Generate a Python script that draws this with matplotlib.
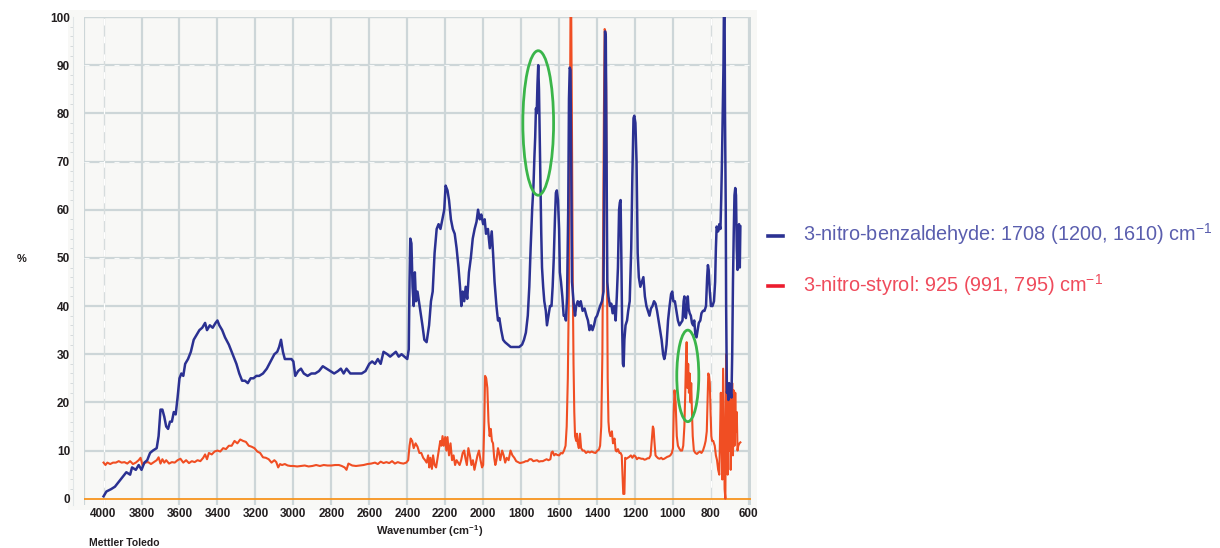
import matplotlib
matplotlib.use("Agg")
import matplotlib.pyplot as plt
from matplotlib.patches import Ellipse, Rectangle

# Spectrum readings (wavenumber cm-1, %)
blue_wn = [
    4000, 3985, 3960, 3940, 3920, 3900, 3880, 3860, 3850, 3830, 3815, 3800,
    3785, 3770, 3755, 3740, 3720, 3710, 3700, 3690, 3680, 3670, 3660, 3650,
    3640, 3630, 3620, 3610, 3600, 3590, 3580, 3570, 3555, 3540, 3525, 3510,
    3495, 3480, 3465, 3455, 3440, 3425, 3410, 3400, 3390, 3375, 3360, 3340,
    3320, 3300, 3285, 3270, 3255, 3240, 3225, 3210, 3195, 3180, 3160, 3140,
    3120, 3100, 3085, 3075, 3065, 3055, 3045, 3030, 3010, 3000, 2990, 2975,
    2960, 2945, 2925, 2905, 2885, 2865, 2845, 2825, 2805, 2785, 2765, 2750,
    2735, 2720, 2700, 2680, 2660, 2640, 2620, 2600, 2585, 2570, 2555, 2540,
    2525, 2505, 2490, 2475, 2460, 2445, 2430, 2415, 2400, 2392, 2388, 2384,
    2378, 2372, 2366, 2360, 2354, 2346, 2335, 2320, 2310, 2298, 2285, 2275,
    2266, 2256, 2245, 2235, 2225, 2215, 2205, 2198, 2188, 2180, 2170, 2160,
    2150, 2140, 2130, 2122, 2115, 2108, 2100, 2092, 2084, 2075, 2065, 2055,
    2045, 2035, 2027, 2018, 2010, 2000, 1992, 1985, 1975, 1965, 1955, 1948,
    1940, 1930, 1922, 1915, 1905, 1895, 1885, 1870, 1855, 1840, 1825, 1810,
    1795, 1785, 1775, 1765, 1757, 1750, 1742, 1735, 1730, 1726, 1722, 1718,
    1714, 1710, 1706, 1702, 1698, 1694, 1690, 1684, 1678, 1670, 1664, 1656,
    1648, 1640, 1634, 1628, 1622, 1617, 1612, 1606, 1600, 1596, 1590, 1583,
    1576, 1570, 1564, 1558, 1552, 1548, 1544, 1540, 1536, 1532, 1528, 1522,
    1516, 1510, 1502, 1494, 1486, 1476, 1466, 1456, 1448, 1440, 1432, 1424,
    1416, 1408, 1400, 1392, 1384, 1374, 1366, 1362, 1358, 1354, 1350, 1346,
    1340, 1332, 1325, 1318, 1310, 1302, 1296, 1290, 1284, 1280, 1276, 1272,
    1268, 1264, 1260, 1256, 1250, 1242, 1236, 1228, 1220, 1214, 1208, 1204,
    1198, 1192, 1186, 1180, 1172, 1164, 1156, 1148, 1140, 1132, 1124, 1116,
    1108, 1100, 1092, 1084, 1076, 1068, 1060, 1052, 1046, 1040, 1034, 1026,
    1018, 1010, 1004, 998, 990, 982, 974, 966, 958, 950, 944, 940, 936, 932,
    926, 922, 918, 912, 906, 900, 894, 888, 882, 876, 870, 864, 856, 850,
    842, 834, 826, 820, 816, 812, 806, 800, 792, 784, 778, 774, 770, 762,
    756, 750, 746, 742, 738, 734, 732, 728, 726, 722, 720, 716, 712, 708,
    704, 700, 696, 692, 688, 684, 680, 676, 672, 668, 664, 660, 656, 652,
    648, 645,
]
blue_pct = [
    0.5, 1.5, 2, 2.5, 3.5, 4.5, 5.5, 5, 6.5, 6, 7, 6,
    7.5, 8, 9.5, 10, 10.5, 13, 18.5, 18.5, 17, 15, 14.5, 16,
    16, 18, 17.5, 21, 25, 26, 25.5, 28, 29, 30.5, 33, 34,
    35, 35.5, 36.5, 35, 36, 35.5, 36.5, 37, 36, 35, 33.5, 32,
    30, 28, 26, 24.5, 24.5, 24, 25, 25, 25.5, 25.5, 26, 27,
    28.5, 30, 30.5, 31.5, 33, 30.5, 29, 29, 29, 28.5, 25.5, 26.5,
    27, 26, 25.5, 26, 26, 26.5, 27.5, 27, 26.5, 26, 26.5, 27,
    26, 27, 26, 26, 26, 26, 26.5, 28, 28.5, 28, 29, 28,
    30.5, 30, 29.5, 30, 30.5, 29.5, 30, 29.5, 29, 31, 45, 54,
    53, 44, 40, 47, 41, 43, 40, 36, 33, 32.5, 36, 41,
    43, 51, 56, 57, 56, 58, 60, 65, 64, 62, 58, 56,
    55, 52, 48, 44, 40, 43, 41, 44, 41.5, 47, 50, 54,
    56, 57.5, 60, 58, 59, 57, 58, 55, 56, 52, 55.5, 51,
    45, 40, 37, 37.5, 35, 33, 32.5, 32, 31.5, 31.5, 31.5, 31.5,
    32, 33, 34.5, 38, 44, 52, 60, 65, 71, 75, 81, 80,
    86, 90, 85, 75, 66, 55, 48, 44, 41, 39, 36, 38,
    40, 40, 44, 50, 58, 63.5, 64, 62, 56, 47, 45, 42,
    38, 38, 37, 42, 60, 83, 89.5, 89, 70, 45, 43, 40,
    38, 40, 41, 40, 41, 39, 39.5, 38, 37, 35, 36, 35,
    36, 37.5, 38, 39, 40, 41, 43, 70, 97, 96, 70, 45,
    42, 40, 40.5, 38.5, 40, 37, 42, 48, 60, 61.5, 62, 50,
    36, 28, 27.5, 33, 36, 37, 39, 41, 52, 67, 79, 79.5,
    78, 70, 51, 46, 44, 45, 46, 42, 40, 39, 38, 39.5,
    40, 41, 40.5, 39, 37, 35, 33, 30, 29, 30, 32, 37,
    40, 42.5, 43, 41, 41, 39, 37, 36, 36.5, 37, 41, 42, 38, 37.5,
    40, 42, 39.5, 38.5, 38, 36.5, 36, 37, 34, 33.5, 35, 36.5, 37, 38.5,
    39, 39, 40, 46, 48.5, 47.5, 43, 40, 40, 41, 45, 52, 56.5, 55.5,
    57, 56, 62, 70, 80, 90, 100, 100, 80, 60, 40, 22, 23, 20.5,
    24, 22, 22, 21, 30, 45, 55, 63, 64.5, 63, 52, 47.5, 55, 57,
    48, 56.5,
]

red_wn = [
    4000, 3990, 3980, 3965, 3950, 3935, 3920, 3905, 3890, 3875, 3860, 3845,
    3830, 3815, 3805, 3795, 3780, 3765, 3750, 3735, 3720, 3710, 3700, 3690,
    3680, 3670, 3655, 3640, 3625, 3610, 3595, 3580, 3565, 3550, 3535, 3520,
    3505, 3490, 3475, 3465, 3455, 3445, 3430, 3415, 3400, 3385, 3370, 3355,
    3340, 3325, 3310, 3295, 3280, 3265, 3250, 3235, 3220, 3205, 3190, 3175,
    3160, 3145, 3130, 3115, 3100, 3090, 3080, 3070, 3060, 3045, 3030, 3015,
    3000, 2980, 2960, 2940, 2920, 2900, 2880, 2860, 2840, 2820, 2800, 2780,
    2760, 2745, 2730, 2720, 2710, 2690, 2670, 2650, 2630, 2610, 2590, 2570,
    2555, 2540, 2525, 2510, 2495, 2480, 2465, 2450, 2435, 2420, 2405, 2395,
    2388, 2382, 2374, 2366, 2356, 2346, 2336, 2326, 2316, 2306, 2298, 2290,
    2284, 2278, 2270, 2264, 2256, 2248, 2240, 2232, 2226, 2220, 2214, 2208,
    2200, 2194, 2188, 2180, 2172, 2164, 2156, 2148, 2140, 2132, 2124, 2116,
    2108, 2100, 2094, 2086, 2078, 2070, 2062, 2054, 2046, 2038, 2030, 2022,
    2014, 2006, 2000, 1994, 1990, 1984, 1978, 1972, 1966, 1960, 1954, 1948,
    1942, 1936, 1930, 1922, 1916, 1910, 1900, 1892, 1884, 1876, 1866, 1856,
    1846, 1836, 1826, 1816, 1806, 1796, 1786, 1776, 1766, 1756, 1746, 1736,
    1726, 1716, 1706, 1696, 1686, 1676, 1666, 1656, 1646, 1640, 1634, 1626,
    1618, 1610, 1600, 1590, 1582, 1574, 1566, 1560, 1554, 1548, 1544, 1540,
    1536, 1532, 1528, 1524, 1520, 1516, 1510, 1506, 1502, 1496, 1490, 1484,
    1476, 1468, 1458, 1448, 1438, 1428, 1418, 1408, 1398, 1390, 1384, 1378,
    1372, 1368, 1364, 1360, 1356, 1352, 1348, 1344, 1340, 1336, 1330, 1322,
    1316, 1308, 1302, 1296, 1290, 1282, 1276, 1270, 1266, 1262, 1256, 1252,
    1246, 1238, 1230, 1222, 1214, 1206, 1198, 1190, 1182, 1174, 1166, 1158,
    1150, 1142, 1134, 1126, 1118, 1112, 1106, 1102, 1098, 1092, 1086, 1078,
    1070, 1062, 1054, 1046, 1038, 1030, 1022, 1014, 1006, 1000, 996, 992,
    986, 980, 974, 968, 960, 952, 946, 940, 936, 932, 928, 924, 920, 916,
    912, 908, 904, 900, 896, 890, 882, 874, 866, 858, 850, 842, 834, 828,
    822, 818, 814, 810, 806, 802, 798, 794, 788, 780, 774, 768, 762, 756,
    752, 748, 744, 740, 736, 732, 728, 724, 720, 716, 712, 708, 704, 700,
    696, 692, 688, 684, 680, 676, 672, 668, 664, 660, 656, 650, 645,
]
red_pct = [
    7.5, 7, 7.5, 7.2, 7.5, 7.5, 7.8, 7.5, 7.6, 7.3, 7.8, 7.2,
    7.5, 8, 8.5, 7, 7.5, 7.6, 7.2, 7.6, 8, 8.6, 7.3, 8.2,
    7.5, 8, 7.3, 7.6, 7.5, 8, 8.3, 7.5, 8, 7.4, 7.8, 7.6,
    8, 7.8, 8.5, 9.2, 8.2, 9.5, 9.2, 9.8, 10, 9.8, 10.5, 10.3,
    11, 11, 12, 11.5, 12.3, 12, 11.8, 11, 10.8, 10.5, 9.8, 9.5,
    8.6, 8.5, 8.2, 7.5, 8, 7.6, 6.5, 7.2, 7, 7.2, 6.9, 6.8,
    6.8, 6.7, 6.8, 6.9, 6.7, 6.8, 7, 6.8, 7, 6.9, 6.9, 7,
    7, 6.8, 6.5, 6, 7.3, 6.9, 6.8, 6.9, 7, 7.2, 7.3, 7.5,
    7.2, 7.7, 7.4, 7.6, 7.4, 7.8, 7.3, 7.6, 7.4, 7.3, 7.5, 8,
    11, 12.5, 12, 10.5, 11.5, 10.8, 9.5, 9.5, 8.5, 8, 7.5, 9,
    6.5, 8.5, 6.2, 9, 7, 6.5, 8.5, 10.5, 12, 11, 13, 11,
    12.8, 10, 12.8, 9, 11.5, 8, 9, 7, 8, 7.5, 7, 8,
    9.5, 10, 8.5, 7, 10.5, 9, 7, 8, 6, 7.5, 9, 10,
    8, 6.5, 7, 16, 25.5, 25, 23, 16, 13, 14.5, 12, 11.5,
    8.5, 7, 8, 10.5, 9.5, 8, 10, 9, 7.5, 8.5, 8, 10,
    9, 8.5, 7.8, 7.6, 7.4, 7.5, 7.6, 7.8, 7.8, 8.2, 8.2, 7.8,
    7.9, 8, 7.7, 7.8, 7.8, 8, 8.2, 8, 8.2, 9.6, 9.8, 9,
    9.3, 9.1, 9, 9.5, 9.4, 10, 11, 15, 25, 45, 70, 100,
    100, 75, 45, 28, 18, 13, 12, 13.5, 11.5, 10.5, 13.5, 10.5,
    10, 10, 9.5, 9.8, 9.6, 9.8, 9.6, 9.5, 10, 10.2, 11, 15,
    30, 55, 80, 97.5, 97, 85, 50, 25, 16, 14, 13, 14,
    11.5, 12.5, 10, 9.8, 10.3, 9.5, 9.5, 9, 5, 1, 1, 8.5,
    8.3, 8.5, 8.7, 9, 8.5, 9, 8.8, 8.2, 8.5, 8.4, 8.3, 8.3,
    8.1, 8.2, 8.4, 8.4, 9, 12, 15, 14.5, 12, 9, 8.7, 8.4,
    8.3, 8.5, 8.2, 8.3, 8.5, 8.7, 8.8, 9, 9.5, 10.5, 18, 22.5,
    20, 13, 11, 10.5, 10, 10, 11, 15, 21, 28, 32.5, 23, 28, 22,
    26, 20, 24, 18, 13, 10, 9.5, 9.3, 9.6, 9.8, 9.5, 10, 11, 12,
    14, 20, 26, 25.5, 24, 18, 13, 12, 12, 11, 9, 8, 6, 5,
    13, 22, 12, 4, 27, 14, 2, 0, 30, 14, 5, 24, 10, 21,
    6, 15, 24, 9, 22.5, 11, 22, 14, 18, 10, 11, 11.5, 11.7,
]

BLUE = "#2b3192"
RED = "#f04e23"
ORANGE = "#f7941d"
GREEN = "#3ab54a"
GRID = "#cdd6d8"
PANEL = "#f8f8f6"

plt.rcParams["mathtext.default"] = "regular"

fig = plt.figure(figsize=(12.2, 5.48), dpi=100)
# light panel behind the plot
fig.patches.append(Rectangle((68 / 1220, 1 - 510 / 548), (757 - 68) / 1220,
                             (510 - 10) / 548, transform=fig.transFigure,
                             facecolor=PANEL, edgecolor="none", zorder=-5))
ax = fig.add_axes([84 / 1220, 1 - 505 / 548, (751 - 84) / 1220, (505 - 17) / 548])
ax.set_zorder(2)
ax.set_facecolor(PANEL)
ax.set_xlim(4103, 589)
ax.set_ylim(-1.3, 100)

for s in ["top", "right", "bottom"]:
    ax.spines[s].set_visible(False)
ax.spines["left"].set_position(("outward", 8))
ax.spines["left"].set_color("#e2e6e7")
ax.spines["left"].set_linewidth(0.8)

ax.set_xticks(range(4000, 599, -200))
ax.set_yticks(range(0, 101, 10))
ax.set_yticks(range(0, 101, 2), minor=True)
ax.tick_params(axis="x", length=0, pad=2)
ax.tick_params(axis="y", which="major", length=0, pad=2)
ax.tick_params(axis="y", which="minor", length=2, color="#d0d6d8", width=0.6)
for lab in ax.get_xticklabels() + ax.get_yticklabels():
    lab.set_fontfamily("Liberation Sans")
    lab.set_fontweight("bold")
    lab.set_fontsize(8.5)
    lab.set_color("#231f20")

# grid
for v in range(10, 101, 10):
    ax.axhline(v, color=GRID, lw=1.6, zorder=1)
for v in (90, 70, 50):
    ax.axhline(v, color="white", lw=0.6, dashes=(6, 12), zorder=1.1)
for v in range(3800, 599, -200):
    if v == 800:
        continue
    ax.axvline(v, color=GRID, lw=1.6, zorder=1)
for v in (4000, 800):
    ax.axvline(v, color="#d6dcdd", lw=1.0, zorder=1)
    ax.axvline(v, color="white", lw=0.8, dashes=(6, 10), zorder=1.1)
ax.axvline(4103, color=GRID, lw=1.6, zorder=1)
ax.axvline(589, color=GRID, lw=1.6, zorder=1)
ax.axhline(100, color=GRID, lw=1.6, zorder=1)
ax.axhline(0, color=ORANGE, lw=1.3, zorder=2)

ax.plot(red_wn, red_pct, color=RED, lw=1.5, zorder=3)
ax.plot(blue_wn, blue_pct, color=BLUE, lw=1.8, zorder=4)

ax.add_patch(Ellipse((1710, 78), 162, 30, fill=False, edgecolor=GREEN,
                     lw=2, zorder=5))
ax.add_patch(Ellipse((922, 25.5), 116, 19, fill=False, edgecolor=GREEN,
                     lw=2, zorder=5))

bold = dict(family="Liberation Sans", fontweight="bold", color="#231f20")
fig.text(17 / 1220, 1 - 259 / 548, "%", ha="left", va="center", fontsize=8, **bold)
fig.text(430 / 1220, 1 - 531 / 548, r"Wavenumber (cm$^{-1}$)",
         ha="center", va="center", fontsize=8, **bold)
fig.text(89 / 1220, 1 - 543 / 548, "Mettler Toledo", ha="left", va="center",
         fontsize=7.5, **bold)

# legend
fig.add_artist(plt.Line2D([768 / 1220, 783 / 1220], [1 - 236 / 548] * 2,
                          color=BLUE, lw=2.6, transform=fig.transFigure))
fig.add_artist(plt.Line2D([768 / 1220, 783 / 1220], [1 - 286 / 548] * 2,
                          color="#ec1c2e", lw=2.6, transform=fig.transFigure))
fig.text(803 / 1220, 1 - 234 / 548,
         "3-nitro-benzaldehyde: 1708 (1200, 1610) cm$^{-1}$",
         ha="left", va="center", fontsize=14.3, color="#5a5eae",
         family="Liberation Sans")
fig.text(803 / 1220, 1 - 285 / 548,
         "3-nitro-styrol: 925 (991, 795) cm$^{-1}$",
         ha="left", va="center", fontsize=14.3, color="#ef4b5c",
         family="Liberation Sans")

fig.savefig("out.png", dpi=100, facecolor="white")
